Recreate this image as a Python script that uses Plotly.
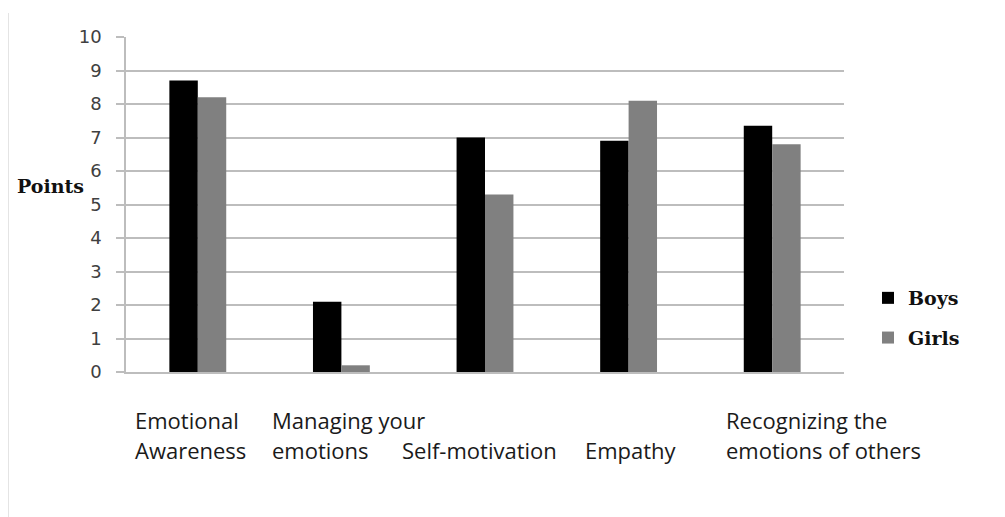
import plotly.graph_objects as go

categories = ["Emotional Awareness", "Managing your emotions", "Self-motivation",
              "Empathy", "Recognizing the emotions of others"]
label_line1 = ["Emotional", "Managing your", "", "", "Recognizing the"]
label_line2 = ["Awareness", "emotions", "Self-motivation", "Empathy", "emotions of others"]
boys = [8.7, 2.1, 7.0, 6.9, 7.35]
girls = [8.2, 0.2, 5.3, 8.1, 6.8]
y_ticks = list(range(0, 11))

GRID = "#bdbdbd"
OFF = 8  # default page body margin

fig = go.Figure()
fig.add_trace(go.Bar(x=categories, y=boys, name="Boys", marker_color="#000000",
                     marker_line_width=0, legendgroup="b"))
fig.add_trace(go.Bar(x=categories, y=girls, name="Girls", marker_color="#808080",
                     marker_line_width=0, legendgroup="g"))

label_shift = [-65, -71, -85, -46, -48]
ann = []
for i, c in enumerate(categories):
    for txt, ypx in ((label_line1[i], 420), (label_line2[i], 450)):
        if not txt:
            continue
        ann.append(dict(x=c, xref="x", xshift=label_shift[i], xanchor="left", align="left",
                        y=(372 - ypx) / 335, yref="paper", yanchor="middle",
                        text=txt, showarrow=False,
                        font=dict(family="Open Sans", size=22, color="#1a1a1a")))
ann.append(dict(x=(50 - 126) / 718, xref="paper", y=(372 - 186) / 335, yref="paper",
                xanchor="center", yanchor="middle", text="<b>Points</b>", showarrow=False,
                font=dict(family="DejaVu Serif", size=19, color="#111111")))

fig.update_layout(
    width=1005 - OFF, height=517 - OFF,
    margin=dict(l=126 - OFF, r=161, t=37 - OFF, b=145, autoexpand=False),
    paper_bgcolor="white", plot_bgcolor="white",
    barmode="group", bargap=0.604, bargroupgap=0,
    annotations=ann,
    showlegend=True,
    legend=dict(x=(868 - 126) / 718, xanchor="left", y=(372 - 279) / 335, yanchor="top",
                traceorder="grouped", tracegroupgap=12,
                font=dict(family="DejaVu Serif", size=19, color="#111111", weight="bold"),
                bgcolor="rgba(0,0,0,0)"),
    shapes=[dict(type="line", xref="paper", yref="paper",
                 x0=(8 - 126) / 718, x1=(8 - 126) / 718,
                 y0=(372 - 13) / 335, y1=(372 - 517) / 335,
                 line=dict(color="#e4e4e4", width=2))],
)
fig.update_xaxes(range=[-0.5, 4.5], autorange=False, showticklabels=False, showgrid=False,
                 showline=True, linecolor=GRID, linewidth=1.5, ticks="", zeroline=False)
fig.update_yaxes(range=[0, 10], tickvals=y_ticks, ticktext=[str(v) for v in y_ticks],
                 showgrid=True, gridcolor=GRID, gridwidth=1.5,
                 showline=True, linecolor=GRID, linewidth=1.5,
                 ticks="outside", ticklen=8, tickcolor=GRID, tickwidth=1.5,
                 ticklabelstandoff=11, zeroline=False,
                 tickfont=dict(family="DejaVu Sans", size=18, color="#404040"))

fig.write_html("out.html")
